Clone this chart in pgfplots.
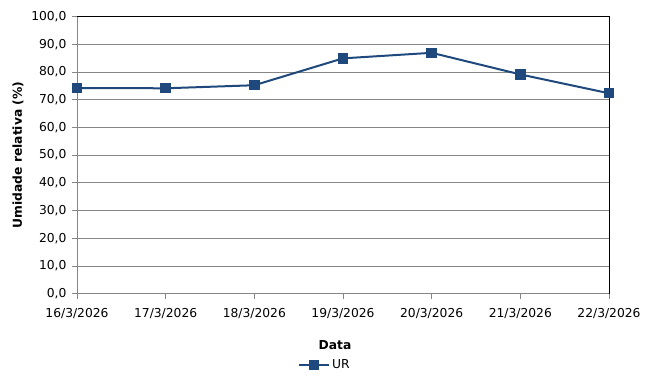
\documentclass[border=0pt]{standalone}
\usepackage{pgfplots}
\pgfplotsset{compat=1.18}
\usepackage{fontspec}
\setmainfont{DejaVu Sans}
\definecolor{urblue}{RGB}{31,73,125}
\definecolor{gridgrey}{RGB}{134,134,134}
\begin{document}
\begin{tikzpicture}
\path[use as bounding box] (0,0) rectangle (670pt,387pt);
\begin{axis}[
  at={(77pt,93.3pt)}, anchor=south west,
  scale only axis, width=532pt, height=277.2pt,
  xmin=0, xmax=6, ymin=0, ymax=100,
  axis lines=left, axis line style={-, draw=gridgrey, line width=0.8pt},
  xtick={0,1,2,3,4,5,6},
  xticklabels={16/3/2026,17/3/2026,18/3/2026,19/3/2026,20/3/2026,21/3/2026,22/3/2026},
  ytick={0,10,...,100},
  yticklabel={\pgfmathprintnumber[fixed,fixed zerofill,precision=1,use comma]{\tick}},
  /pgf/number format/assume math mode=true,
  tick align=outside, major tick length=5pt,
  tick style={draw=gridgrey, line width=0.8pt},
  ymajorgrids, major grid style={draw=gridgrey, line width=0.8pt},
  ticklabel style={font=\fontsize{12.3}{14}\selectfont},
  xticklabel style={yshift=-6pt},
  yticklabel style={xshift=-2pt},
  xlabel={Data}, ylabel={Umidade relativa (\%)},
  label style={font=\fontsize{12.3}{14}\selectfont\bfseries},
  xlabel style={at={(axis description cs:0.485,-0.185)}, anchor=center},
  ylabel style={at={(axis description cs:-0.111,0.5)}, anchor=center, rotate=0},
  legend style={at={(axis description cs:0.466,-0.257)}, anchor=center, draw=none,
    font=\fontsize{12.3}{14}\selectfont, inner sep=1pt},
  legend image code/.code={\draw[mark repeat=2,mark phase=2] plot coordinates {(0pt,0pt) (15pt,0pt) (30pt,0pt)};},
  clip=false,
]
\addplot[color=urblue, line width=2pt, mark=square*, mark size=4.2pt, mark options={solid}]
  coordinates {(0,74.2) (1,74.1) (2,75.2) (3,84.9) (4,86.9) (5,79.1) (6,72.3)};
\addlegendentry{UR}
\draw[black, line width=0.8pt] (rel axis cs:0,1) -- (rel axis cs:1,1) -- (rel axis cs:1,0);
\end{axis}
\end{tikzpicture}
\end{document}
